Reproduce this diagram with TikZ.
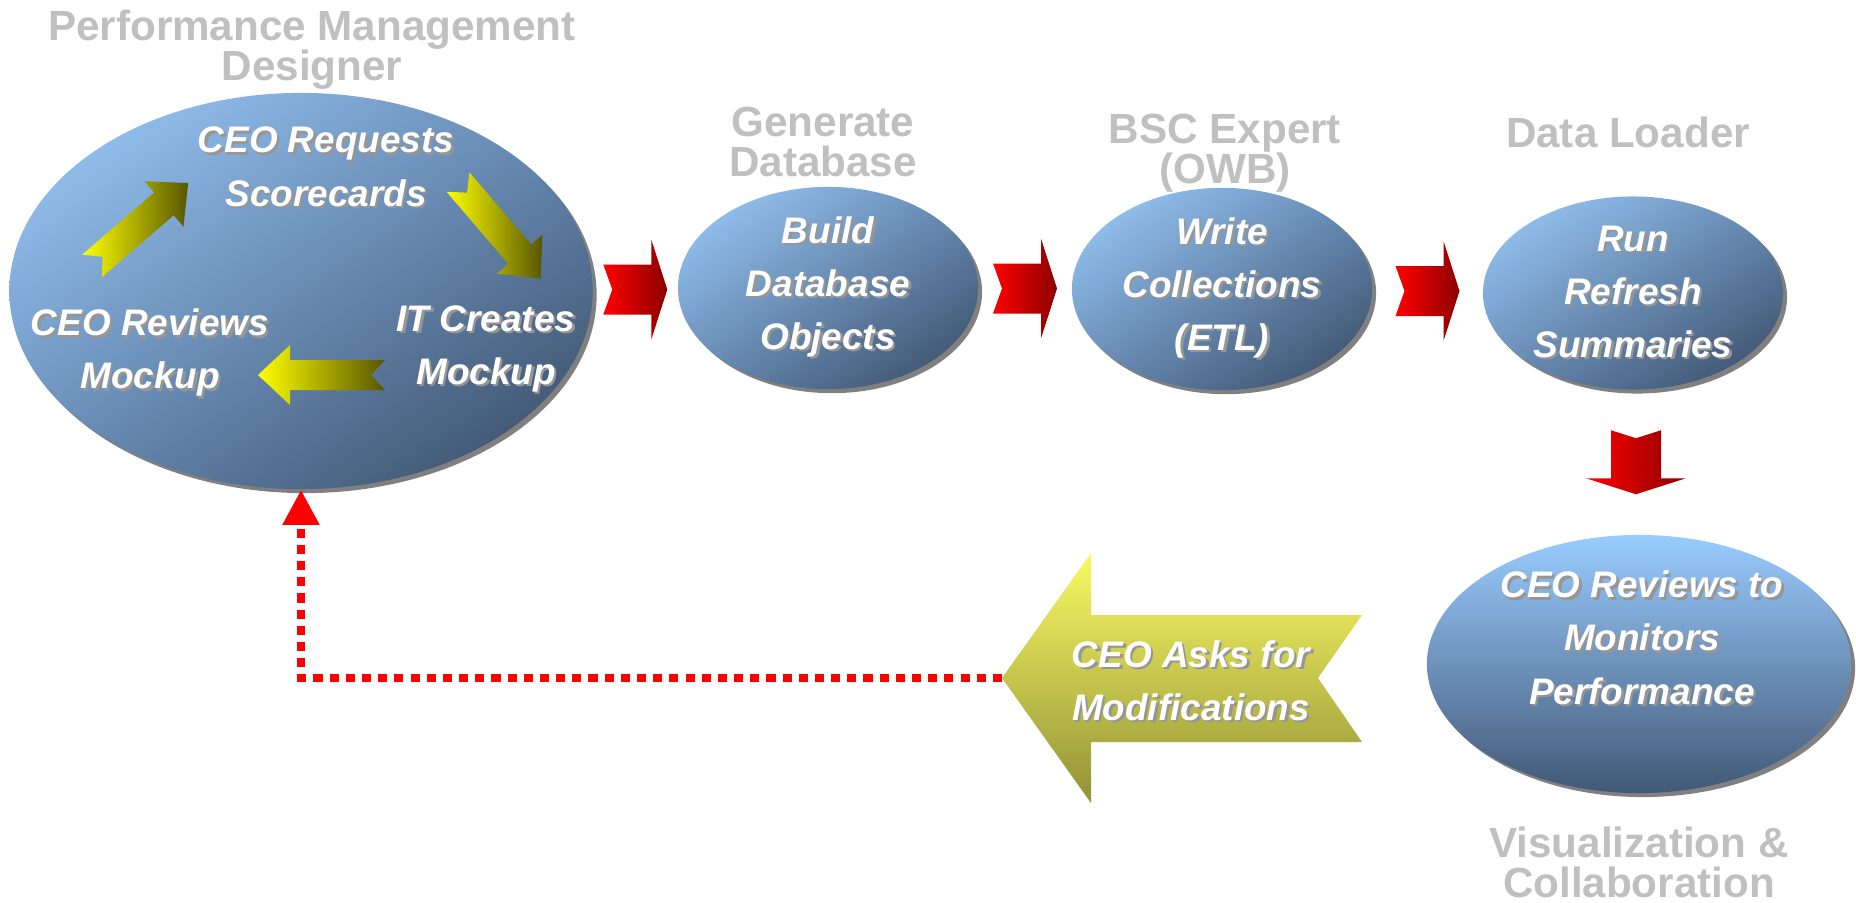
\documentclass[tikz,border=0pt]{standalone}
\usepackage{fontspec}
\setmainfont{Liberation Sans}
\usetikzlibrary{calc,shapes.geometric,shadows,shadings,arrows.meta}

\definecolor{lblgray}{RGB}{192,192,192}
\definecolor{ballhi}{RGB}{160,208,255}
\definecolor{ballmid}{RGB}{102,138,180}
\definecolor{balllo}{RGB}{54,72,96}
\definecolor{disctop}{RGB}{153,204,255}
\definecolor{discbot}{RGB}{66,88,118}
\definecolor{shadowgray}{RGB}{128,128,128}
\definecolor{txtshadow}{RGB}{150,150,150}
\definecolor{chevlo}{RGB}{140,0,0}
\definecolor{olivelo}{RGB}{88,86,0}
\definecolor{askhi}{RGB}{250,250,100}
\definecolor{asklo}{RGB}{145,145,55}

% white text with a small grey drop shadow
\newcommand{\shd}[1]{\leavevmode\rlap{\kern0.7pt\raisebox{-0.7pt}{\color{txtshadow}#1}}#1}

% yellow notched arrow: tail middle, direction
\newcommand{\notcharrow}[2]{%
  \shade[left color=yellow, right color=olivelo]
    ($#1+(#2+90:15)$) -- ($#1+(#2:14)$) -- ($#1+(#2-90:15)$)
    -- ($#1+(#2:95)+(#2-90:15)$) -- ($#1+(#2:95)+(#2-90:30)$)
    -- ($#1+(#2:127)$) -- ($#1+(#2:95)+(#2+90:30)$)
    -- ($#1+(#2:95)+(#2+90:15)$) -- cycle;}

\tikzset{
  chevright/.pic={
    \shade[left color=red, right color=chevlo] (-32,-25) -- (16,-25) -- (16,-50) -- (32,0)
      -- (16,50) -- (16,25) -- (-32,25) -- (-23,0) -- cycle;
  },
  chevdown/.pic={
    \shade[left color=red, right color=chevlo] (-25,-32) -- (0,-24) -- (25,-32) -- (25,16)
      -- (50,16) -- (0,32) -- (-50,16) -- (-25,16) -- cycle;
  }
}

\begin{document}
\begin{tikzpicture}[x=0.01cm, y=-0.01cm,
  lbl/.style={text=lblgray, font=\bfseries\fontsize{12}{11.4}\selectfont, align=center, inner sep=0},
  wtxt/.style={text=white, font=\bfseries\itshape\fontsize{10.5}{15.1}\selectfont, align=center, inner sep=0},
  ball/.style={ellipse, inner sep=0,
    drop shadow={shadow xshift=0.04cm, shadow yshift=-0.04cm, fill=shadowgray, opacity=1},
    shade, upper left=ballhi, upper right=ballmid, lower left=ballmid, lower right=balllo},
  stage/.style={ball, wtxt, minimum width=3cm, minimum height=1.93cm},
  feedback/.style={red, line width=2.28pt, dash pattern=on 2.6pt off 2pt,
    -{Triangle[width=10pt,length=10pt]}}]
  \useasboundingbox (0,0) rectangle (1856,902);

  % designer loop
  \node[ball, minimum width=5.83cm, minimum height=3.96cm] (pmd) at (301,291) {};
  \node[lbl] (pmdl) at (312,50) {Performance Management\\Designer};
  \node[wtxt] (req) at (326,168) {\shd{CEO Requests}\\\shd{Scorecards}};
  \node[wtxt] (rev) at (150,354) {\shd{CEO Reviews}\\\shd{Mockup}};
  \node[wtxt] (itc) at (486,350) {\shd{IT Creates}\\\shd{Mockup}};
  \notcharrow{(92,266)}{-40.8}
  \notcharrow{(458,182)}{49.5}
  \notcharrow{(385,375)}{180}

  % stages
  \node[stage] (bdo) at (828,288) {\shd{Build}\\\shd{Database}\\\shd{Objects}};
  \node[stage] (wc) at (1222,289) {\shd{Write}\\\shd{Collections}\\\shd{(ETL)}};
  \node[stage] (rrs) at (1633,293) {\shd{Run}\\\shd{Refresh}\\\shd{Summaries}};
  \node[lbl] (bdol) at (823,142) {Generate\\Database};
  \node[lbl] (wcl) at (1225,153) {BSC Expert\\(OWB)};
  \node[lbl] (rrsl) at (1628,132) {Data Loader};

  \pic at ($(pmd.east)!0.5!(bdo.west)$) {chevright};
  \pic at ($(bdo.east)!0.5!(wc.west)$) {chevright};
  \pic at ($(wc.east)!0.5!(rrs.west)$) {chevright};

  % review
  \node[ball, top color=disctop, bottom color=discbot, minimum width=4.24cm, minimum height=2.58cm] (crp) at (1639,664) {};
  \node[wtxt] (crpt) at (1642,639) {\shd{CEO Reviews to}\\\shd{Monitors}\\\shd{Performance}};
  \node[lbl] (crpl) at (1639,862) {Visualization \&\\Collaboration};
  \pic at ($(rrs.south)!0.5!(crp.north)$) {chevdown};

  % modifications
  \coordinate (asktip) at (1002,678);
  \shade[top color=askhi, bottom color=asklo] (asktip) -- (1091,553) -- (1091,615) -- (1362,615)
    -- (1318,678) -- (1362,742) -- (1091,742) -- (1091,803) -- cycle;
  \node[wtxt] (ask) at (1191,682) {\shd{CEO Asks for}\\\shd{Modifications}};
  \draw[feedback] (asktip) -| (pmd.south);
\end{tikzpicture}
\end{document}
